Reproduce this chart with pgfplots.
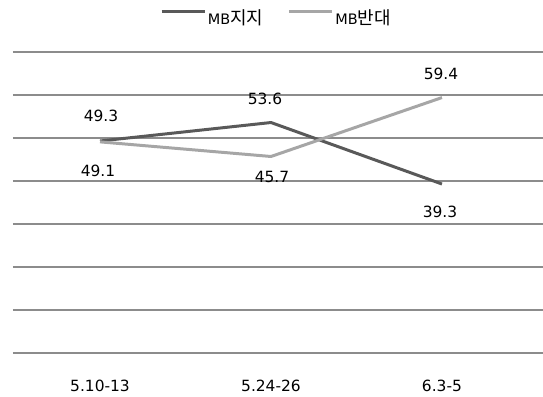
\documentclass[border=0pt]{standalone}
\usepackage{pgfplots}
\pgfplotsset{compat=1.18}
\usepackage{pgfplotstable}
\usepackage{fontspec}
\setmainfont{DejaVu Sans}
\newfontfamily\kr{Noto Sans CJK KR}

\definecolor{supportc}{HTML}{595959}
\definecolor{opposec}{HTML}{A6A6A6}
\definecolor{gridc}{HTML}{8C8C8C}

% survey period index, share (%), label offset (dx, dy in bp)
\pgfplotstableread{
x y dx dy
0 49.3 1 25
1 53.6 -6 24
2 39.3 -2 -28
}\support
\pgfplotstableread{
x y dx dy
0 49.1 -2 -29
1 45.7 1 -20
2 59.4 -1 24
}\oppose

\begin{document}
\begin{tikzpicture}
\begin{axis}[
  scale only axis, width=530bp, height=301bp,
  xmin=-0.509, xmax=2.591, ymin=0, ymax=70,
  clip=false,
  axis line style={draw=none},
  major tick length=0pt,
  ytick={0,10,...,70}, yticklabels={},
  ymajorgrids, grid style={gridc, line width=1.1pt},
  xtick={0,1,2}, xticklabels={5.10-13,5.24-26,6.3-5},
  xticklabel style={font=\fontsize{15.5}{18}\selectfont, anchor=center, yshift=-33bp},
  /pgf/number format/assume math mode=true,
  /pgf/number format/fixed, /pgf/number format/precision=1,
  /pgf/number format/fixed zerofill,
  legend columns=2,
  legend style={at={(axis description cs:0.277,1.113)}, anchor=west,
    draw=none, fill=none, inner sep=0pt,
    font=\fontsize{15}{18}\selectfont,
    nodes={inner sep=2pt},
    /tikz/every even column/.append style={column sep=22bp}},
  legend image code/.code={\draw[#1] (0bp,6bp) -- (43bp,6bp);},
  every axis plot/.append style={line width=3pt, line join=round},
  nodes near coords,
  point meta=y,
  visualization depends on={\thisrow{dx}\as\dx},
  visualization depends on={\thisrow{dy}\as\dy},
  nodes near coords style={anchor=center, xshift=\dx bp, yshift=\dy bp,
    text=black, font=\fontsize{15.5}{18}\selectfont},
]
\addplot[supportc, no markers] table[x=x, y=y] {\support};
\addlegendentry{\fontsize{14.5}{18}\selectfont MB{\kr\fontsize{18}{18}\selectfont 지지}}
\addplot[opposec, no markers] table[x=x, y=y] {\oppose};
\addlegendentry{\fontsize{14.5}{18}\selectfont MB{\kr\fontsize{18}{18}\selectfont 반대}}
\end{axis}
\pgfresetboundingbox
\path ([shift={(-13bp,-44bp)}]current axis.south west)
  rectangle ([shift={(0bp,52bp)}]current axis.north east);
\end{tikzpicture}
\end{document}
